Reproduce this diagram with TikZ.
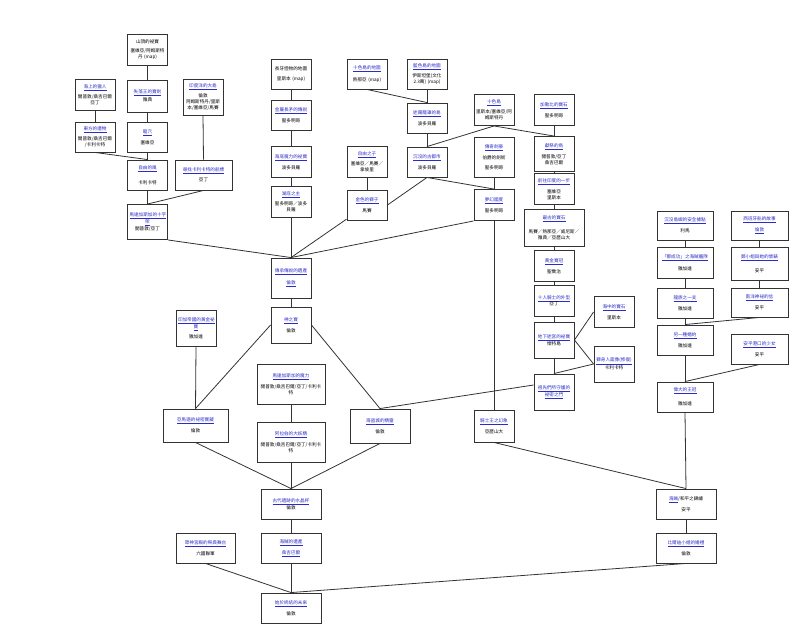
\documentclass[tikz,border=0pt]{standalone}
\usepackage{fontspec}
\setmainfont{Noto Sans CJK TC}
\XeTeXlinebreaklocale "zh"
\XeTeXlinebreakskip=0pt
\definecolor{qblue}{HTML}{2B2BC8}
\definecolor{qline}{HTML}{333333}
\newcommand\ql[1]{\textcolor{qblue}{\underline{#1}}}

\begin{document}
\begin{tikzpicture}[x=1pt,y=-1pt,
  quest/.style={draw=qline, line width=0.9pt, fill=white, align=center, inner sep=2pt,
    font=\fontsize{4.6}{6}\selectfont, text width=36pt, minimum height=31pt},
  link/.style={draw=qline, line width=0.8pt}]

\useasboundingbox (0,0) rectangle (799,631);

\node[quest] (A) at (147.5,50) {山頂的祕寶\\[3pt]塞維亞/阿姆斯特\\丹 (map)};
\node[quest] (B) at (95,95) {\ql{海上的獵人}\\[3pt]開普敦/桑吉巴爾\\亞丁};
\node[quest, minimum height=32pt] (C) at (147.5,96) {\ql{失落王的寶劍}\\[1pt]雅典};
\node[quest, minimum height=36pt] (D) at (203,97) {\ql{印度洋的大島}\\[3pt]倫敦\\阿姆斯特丹/里斯\\本/塞維亞/馬賽};
\node[quest, minimum height=30pt] (E) at (95,137) {\ql{東方的遺物}\\[3pt]開普敦/桑吉巴爾\\/卡利卡特};
\node[quest, minimum height=30pt] (F) at (147.5,137) {\ql{龍穴}\\[4pt]塞維亞};
\node[quest, minimum height=30pt] (G) at (147.5,175) {\ql{自由的風}\\[8pt]卡利卡特};
\node[quest, minimum height=30pt, text width=53pt] (H) at (203.5,175) {\ql{尋找卡利卡特的航標}\\[4pt]亞丁};
\node[quest, minimum height=35pt] (I) at (147.5,222) {\ql{馬達加斯加的十字}\\\ql{架}\\開普敦/亞丁};

\node[quest, minimum height=30pt] (J) at (291,74) {長牙怪物的地圖\\[4pt]里斯本 (map)};
\node[quest, minimum height=30pt] (K) at (291,115) {\ql{金屬長矛的傳說}\\[4pt]聖多明哥};
\node[quest] (L) at (291,162) {\ql{海底魔力的祕寶}\\[4pt]波多貝羅};
\node[quest] (M) at (291,202) {\ql{湖底之主}\\[3pt]聖多明哥／波多\\貝羅};
\node[quest, minimum height=30pt] (N) at (367,74) {\ql{十色島的地圖}\\[4pt]熱那亞 (map)};
\node[quest, minimum height=30pt] (O) at (427,74) {\ql{藍色島的地圖}\\[3pt]伊斯坦堡(文化\\2.3萬) (map)};
\node[quest, minimum height=30pt] (P) at (427,118) {\ql{迷霧籠罩的島}\\[4pt]波多貝羅};
\node[quest] (Q) at (367,162) {\ql{自由之子}\\[3pt]塞維亞／馬賽／\\拿坡里};
\node[quest, minimum height=30pt] (R) at (367,205) {\ql{金色的獅子}\\[4pt]馬賽};
\node[quest, minimum height=30pt] (S) at (427,162) {\ql{沉沒的古都市}\\[4pt]波多貝羅};

\node[quest] (U) at (494,110) {\ql{十色島}\\[3pt]里斯本/塞維亞/阿\\姆斯特丹};
\node[quest] (V) at (554,110) {\ql{加勒比的寶石}\\[4pt]聖多明哥};
\node[quest, minimum height=40pt] (W) at (494,157) {\ql{傳奇劍豪}\\[4pt]伯爵的劍術\\[4pt]聖多明哥};
\node[quest, minimum height=35pt] (X) at (554,154) {\ql{獻祭的鳥}\\[4pt]開普敦/亞丁\\桑吉巴爾};
\node[quest] (Y) at (494,205) {\ql{夢幻國度}\\[4pt]聖多明哥};
\node[quest] (Z) at (554,189) {\ql{前往印度的一步}\\[4pt]塞維亞\\里斯本};
\node[quest, minimum height=37pt, text width=56pt] (AA) at (554,228) {\ql{最古的寶石}\\[7pt]馬賽／熱那亞／威尼斯／\\雅典／亞歷山大};
\node[quest] (AB) at (554,266) {\ql{黃金寶冠}\\[4pt]聖喬治};
\node[quest] (AC) at (554,301) {\ql{十人騎士的外型}\\亞丁};
\node[quest, minimum height=36pt] (AD) at (554,340) {\ql{地下迷宮的祕寶}\\懷特島};
\node[quest] (AE) at (614,312) {\ql{海中的寶石}\\[4pt]里斯本};
\node[quest, minimum height=36pt] (AF) at (614,364) {\ql{獅身人面像(修復)}\\卡利卡特};
\node[quest, minimum height=36pt] (AG) at (554,392) {\ql{祖先們所守護的}\\\ql{祕密之門}};
\node[quest, minimum height=32pt] (AH) at (494,426) {\ql{騎士王之幻象}\\[4pt]亞歷山大};

\node[quest, minimum height=40pt] (T) at (291,278) {\ql{傳承傳說的遺產}\\[5pt]\ql{倫敦}};
\node[quest, minimum height=36pt] (T2) at (291,325) {\ql{神之寶}\\[4pt]倫敦};
\node[quest, minimum height=36pt] (BA) at (196,328) {\ql{印加帝國的黃金祕}\\\ql{寶}\\[3pt]雅加達};
\node[quest, minimum height=33pt, text width=61pt] (BC) at (195.5,425.5) {\ql{亞馬遜的祕密寶藏}\\[4pt]倫敦};
\node[quest, minimum height=40pt, text width=64pt] (BD) at (291,384) {\ql{馬達加斯加的魔力}\\[4pt]開普敦/桑吉巴爾/亞丁/卡利卡\\特};
\node[quest, minimum height=40pt, text width=64pt] (BE) at (291,442) {\ql{阿拉伯的大妖精}\\[4pt]開普敦/桑吉巴爾/亞丁/卡利卡\\特};
\node[quest, minimum height=34pt, text width=56pt] (BB) at (380,426) {\ql{海盜城的精靈}\\[4pt]倫敦};
\node[quest, minimum height=30pt, text width=56pt] (BF) at (291,504) {\ql{古代遺跡的水晶杯}\\倫敦};
\node[quest, minimum height=30pt, text width=56pt] (BG) at (291,548) {\ql{海賊的遺產}\\[4pt]\ql{桑吉巴爾}};
\node[quest, minimum height=30pt, text width=55pt] (BH) at (205.5,548) {\ql{眾神宮殿的祭典舞台}\\[4pt]六國聯軍};
\node[quest, minimum height=30pt, text width=56pt] (BI) at (291,608) {\ql{始於終結的未來}\\[4pt]倫敦};
\node[quest, minimum height=30pt, text width=56pt] (BJ) at (686,504) {\ql{海賊}/和平之錦繡\\[4pt]安平};
\node[quest, minimum height=30pt, text width=56pt] (BK) at (686,548) {\ql{比爾迪小姐的婚禮}\\[4pt]倫敦};

\node[quest, minimum height=29pt, text width=52pt] (CA) at (685,225.5) {\ql{沉沒島嶼的安全據點}\\[4pt]利馬};
\node[quest, minimum height=29pt, text width=53pt] (CB) at (759.5,225.5) {\ql{西班牙船的故事}\\[4pt]\ql{倫敦}};
\node[quest, minimum height=31pt, text width=52pt] (CC) at (685,262.5) {\ql{「鄭成功」之海賊艦隊}\\[5pt]雅加達};
\node[quest, minimum height=33pt, text width=53pt] (CD) at (759.5,263.5) {\ql{鄭小姐與她的懷錶}\\[7pt]安平};
\node[quest, minimum height=30pt, text width=52pt] (CE) at (685,303) {\ql{龍族之一支}\\[4pt]雅加達};
\node[quest, minimum height=29pt, text width=53pt] (CF) at (759.5,302.5) {\ql{南洋神祕的信}\\[4pt]安平};
\node[quest, minimum height=30pt, text width=52pt] (CG) at (685,340) {\ql{另一種婚約}\\[4pt]雅加達};
\node[quest, minimum height=30pt, text width=53pt] (CH) at (759.5,349) {\ql{安平港口的少女}\\[4pt]安平};
\node[quest, minimum height=30pt, text width=52pt] (CI) at (685,397) {\ql{偉大的王冠}\\[7pt]雅加達};

\foreach \a/\b in {A/C, C/F, F/G, B/E, E/G, G/I, D/H, H/I, J/K, K/L, L/M, M/T,
    N/P, O/P, P/S, U/S, U/X, V/X, X/Z, Z/AA, AA/AB, AB/AC, AC/AD, AD/AG,
    S/Y, W/Y, Q/R, Y/AH, T/T2, BA/BC, BD/BE, BC/BF, BE/BF, BB/BF, BF/BG,
    BG/BI, BH/BI, BK/BI, AH/BJ, CI/BJ, BJ/BK, CA/CC, CC/CE, CE/CG, CG/CI,
    CB/CD, CD/CF, CF/CG, CH/CI}
  \draw[link] (\a.south) -- (\b.north);

\draw[link] (I.south east) -- (T.north);
\draw[link] (R) -- (T.north);
\draw[link] (Y.south west) -- (T.north);
\draw[link] (S.south) -- (R.east);
\draw[link] (AD.east) -- (AE.west);
\draw[link] (AD.east) -- (AF.west);
\draw[link] (AF.west) -- (AG.north);
\draw[link] ([yshift=7pt]AG.west) -- (BB.north);
\draw[link] (T2.west) -- (BC.north);
\draw[link] (T2.east) -- (BB.north);

\end{tikzpicture}
\end{document}
